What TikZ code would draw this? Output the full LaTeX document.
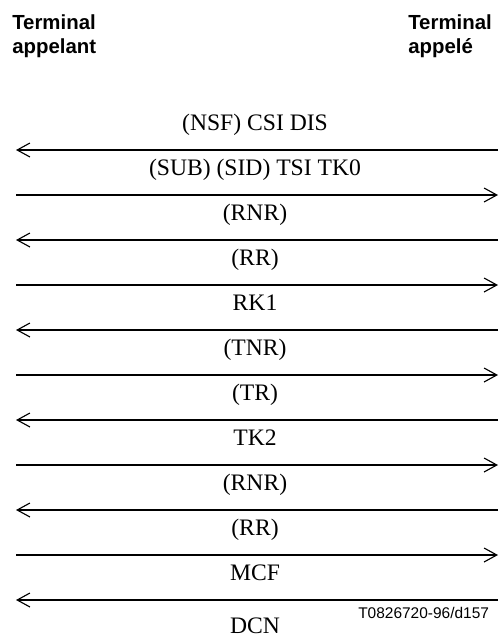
\documentclass[tikz,border=0pt]{standalone}
\usepackage{fontspec}
\setmainfont{Liberation Serif}
\newfontfamily\hdrfont{Liberation Sans}
\usetikzlibrary{arrows.meta}

\begin{document}
\begin{tikzpicture}[x=0.025cm, y=-0.025cm,
  msg/.style={line width=0.8pt,
    >={Straight Barb[length=3.2mm, width=3.5mm]}},
  lbl/.style={anchor=base, inner sep=0pt,
    font=\fontsize{16.8}{20}\selectfont},
  hdr/.style={anchor=base west, inner sep=0pt, align=left,
    font=\hdrfont\bfseries\fontsize{14.5}{17}\selectfont}
]
\useasboundingbox (0,0) rectangle (499,639);

% terminals
\node[hdr] (caller) at (12,53) {Terminal\\appelant};
\node[hdr] (callee) at (408,53) {Terminal\\appelé};

% message exchange
\foreach \i/\txt/\dir in {1/{(NSF) CSI DIS}/<-, 2/{(SUB) (SID) TSI TK0}/->,
    3/{(RNR)}/<-, 4/{(RR)}/->, 5/RK1/<-, 6/{(TNR)}/->, 7/{(TR)}/<-,
    8/TK2/->, 9/{(RNR)}/<-, 10/{(RR)}/->, 11/MCF/<-} {
  \coordinate (L\i) at (16, 105+45*\i);
  \coordinate (R\i) at (498, 105+45*\i);
  \node[lbl] (m\i) at (255, 85+45*\i) {\txt};
  \draw[msg, \dir] (L\i) -- (R\i);
}
\node[lbl] (m12) at (255,633) {DCN};

\node[anchor=base west, inner sep=0pt,
  font=\hdrfont\fontsize{11}{13}\selectfont] (figid) at (358,618)
  {T0826720-96/d157};

\end{tikzpicture}
\end{document}
